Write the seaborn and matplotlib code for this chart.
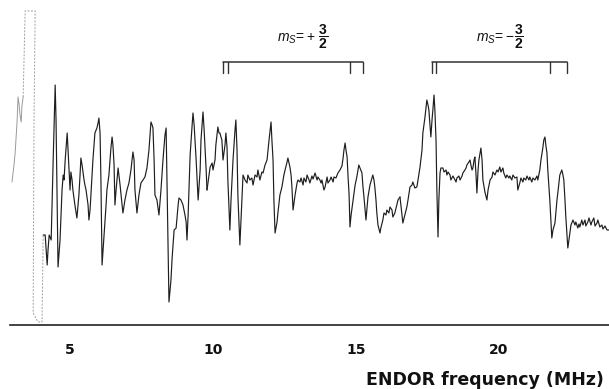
import numpy as np
import pandas as pd
import matplotlib
matplotlib.use("Agg")
import matplotlib.pyplot as plt
import seaborn as sns

# ENDOR spectrum: (frequency in MHz, signal in arbitrary units)
lead_in = [(2.97, 143), (3.04, 160), (3.08, 172), (3.15, 205), (3.18, 228), (3.22, 220),
           (3.25, 210), (3.29, 203), (3.32, 220), (3.36, 228)]

# off-scale part of the trace (drawn faint in the original)
saturated = [(3.36, 228), (3.43, 314), (3.78, 314), (3.74, 205), (3.71, 12), (3.88, 3),
             (4.02, 3), (4.06, 90)]

trace_low = [
    (4.06, 90), (4.13, 90), (4.20, 60), (4.23, 75), (4.27, 90), (4.34, 85), (4.41, 165),
    (4.48, 240), (4.51, 205), (4.58, 58), (4.65, 85), (4.72, 135), (4.76, 150), (4.79, 145),
    (4.83, 165), (4.90, 192), (4.93, 175), (5.00, 135), (5.03, 153), (5.07, 145), (5.10, 135),
    (5.17, 120), (5.24, 107), (5.31, 130), (5.35, 150), (5.38, 167), (5.42, 160), (5.49, 145),
    (5.52, 140), (5.56, 135), (5.63, 120), (5.66, 105), (5.70, 115), (5.73, 130), (5.80, 165),
    (5.87, 192), (5.94, 197), (5.98, 202), (6.01, 207), (6.05, 192), (6.08, 145), (6.12, 60),
    (6.19, 90), (6.26, 120), (6.29, 135), (6.36, 150), (6.43, 177), (6.47, 188), (6.50, 180),
    (6.54, 160), (6.57, 120), (6.61, 135), (6.68, 157), (6.75, 140), (6.82, 120), (6.85, 112),
    (6.92, 125), (6.99, 135), (7.06, 142), (7.13, 155), (7.20, 173), (7.24, 165), (7.27, 135),
    (7.34, 112), (7.41, 130), (7.48, 142), (7.55, 145), (7.62, 148), (7.69, 157), (7.76, 175),
    (7.83, 203), (7.87, 200), (7.90, 197), (7.94, 165), (7.97, 130), (8.04, 125), (8.11, 110),
    (8.18, 135), (8.25, 165), (8.32, 190), (8.36, 197), (8.39, 145), (8.46, 23), (8.53, 45),
    (8.57, 67), (8.64, 95), (8.71, 97), (8.78, 120), (8.81, 127), (8.88, 125), (8.95, 120),
    (9.02, 110), (9.06, 103), (9.09, 85), (9.13, 110), (9.20, 170), (9.27, 200), (9.30, 212),
    (9.34, 200), (9.41, 165), (9.48, 125), (9.55, 155), (9.58, 185), (9.65, 213), (9.69, 195),
    (9.76, 155), (9.79, 135),
]

trace_mid = [
    (9.79, 135), (9.86, 150), (9.90, 158), (9.97, 162), (10.00, 155), (10.07, 165), (10.10, 180),
    (10.17, 198), (10.21, 192), (10.24, 192), (10.31, 185), (10.35, 165), (10.42, 180),
    (10.45, 192), (10.49, 178), (10.52, 145), (10.59, 95), (10.63, 125), (10.70, 165),
    (10.77, 195), (10.80, 205), (10.84, 175), (10.87, 130), (10.94, 80), (11.01, 125),
    (11.05, 150), (11.12, 145), (11.19, 142), (11.22, 150), (11.29, 145), (11.36, 147),
    (11.40, 140), (11.47, 150), (11.54, 148), (11.57, 155), (11.64, 145), (11.71, 153),
    (11.75, 152), (11.82, 160), (11.89, 165), (11.96, 185), (12.03, 203), (12.06, 185),
    (12.10, 165), (12.13, 125), (12.17, 92), (12.24, 103), (12.27, 112), (12.34, 130),
    (12.41, 138), (12.48, 150), (12.52, 155), (12.59, 163), (12.62, 167), (12.66, 162),
    (12.69, 158), (12.73, 150), (12.76, 138), (12.80, 115), (12.87, 130), (12.94, 142),
    (12.97, 145), (13.04, 143), (13.08, 147), (13.15, 140), (13.18, 147), (13.25, 143),
    (13.29, 150), (13.36, 145), (13.39, 142), (13.46, 149), (13.50, 146), (13.57, 152),
    (13.64, 145), (13.67, 148), (13.74, 145), (13.78, 142), (13.81, 145), (13.88, 135),
    (13.92, 138), (13.99, 148), (14.02, 142), (14.09, 145), (14.13, 148), (14.20, 143),
    (14.23, 148), (14.30, 147), (14.37, 152), (14.44, 155), (14.51, 159), (14.55, 167),
    (14.58, 175), (14.62, 182), (14.65, 175), (14.69, 168), (14.72, 150), (14.76, 130),
    (14.79, 98), (14.83, 110), (14.90, 125), (14.97, 140), (15.03, 148), (15.10, 160),
    (15.14, 157), (15.21, 152), (15.24, 140), (15.28, 128), (15.35, 105), (15.38, 115),
    (15.42, 128), (15.49, 140), (15.56, 147), (15.59, 150), (15.63, 145), (15.66, 138),
    (15.70, 125), (15.73, 112), (15.77, 100), (15.84, 92), (15.87, 97), (15.94, 105),
    (15.98, 112), (16.05, 110), (16.08, 115), (16.15, 112), (16.19, 118), (16.26, 115),
    (16.29, 108), (16.36, 112), (16.43, 120), (16.47, 125), (16.54, 128),
]

trace_high = [
    (16.54, 128), (16.57, 120), (16.64, 102), (16.71, 110), (16.78, 118), (16.82, 125),
    (16.89, 138), (16.96, 140), (16.99, 143), (17.06, 137), (17.13, 138), (17.17, 145),
    (17.24, 158), (17.31, 175), (17.34, 192), (17.41, 207), (17.48, 225), (17.52, 220),
    (17.55, 215), (17.59, 200), (17.62, 188), (17.66, 205), (17.69, 215), (17.73, 230),
    (17.76, 215), (17.80, 185), (17.83, 135), (17.87, 88), (17.90, 125), (17.94, 152),
    (17.97, 157), (18.04, 157), (18.08, 153), (18.15, 155), (18.18, 150), (18.22, 153),
    (18.29, 150), (18.32, 145), (18.39, 149), (18.43, 147), (18.50, 143), (18.53, 147),
    (18.60, 149), (18.64, 145), (18.71, 149), (18.74, 152), (18.81, 155), (18.85, 157),
    (18.88, 160), (18.95, 163), (18.99, 165), (19.02, 160), (19.06, 155), (19.09, 157),
    (19.13, 165), (19.16, 168), (19.20, 150), (19.23, 132), (19.27, 155), (19.30, 165),
    (19.37, 177), (19.41, 165), (19.44, 145), (19.51, 133), (19.58, 125), (19.62, 135),
    (19.69, 145), (19.76, 148), (19.79, 153), (19.86, 150), (19.93, 155), (19.97, 153),
    (20.03, 158), (20.07, 153), (20.14, 157), (20.17, 152), (20.24, 147), (20.28, 150),
    (20.35, 147), (20.38, 149), (20.45, 145), (20.49, 150), (20.56, 147), (20.63, 148),
    (20.66, 135), (20.73, 142), (20.77, 147), (20.84, 143), (20.87, 147), (20.94, 145),
    (20.98, 149), (21.05, 145), (21.08, 148), (21.15, 143), (21.19, 147), (21.26, 145),
    (21.33, 149), (21.36, 145), (21.43, 155), (21.47, 165), (21.54, 178), (21.57, 185),
    (21.61, 188), (21.64, 180), (21.68, 172), (21.71, 155), (21.78, 125), (21.85, 87),
    (21.89, 95), (21.96, 102), (22.03, 125), (22.06, 132), (22.13, 150), (22.20, 155),
    (22.24, 150), (22.27, 145), (22.31, 125), (22.34, 108), (22.41, 77), (22.48, 92),
    (22.52, 100), (22.59, 105), (22.66, 100), (22.69, 103), (22.76, 97), (22.80, 101),
    (22.83, 98), (22.90, 105), (22.94, 100), (23.01, 105), (23.04, 99), (23.11, 103),
    (23.15, 107), (23.22, 100), (23.25, 103), (23.32, 107), (23.36, 99), (23.43, 102),
    (23.46, 105), (23.53, 98), (23.60, 100), (23.64, 96), (23.71, 99), (23.78, 95), (23.85, 95),
]

# line positions marked by the two brackets (MHz)
plus_lines = [10.35, 10.52, 14.79, 15.24]
minus_lines = [17.66, 17.80, 21.78, 22.38]
bracket_labels = [r"$m_S\!=\!+\,\dfrac{\mathbf{3}}{\mathbf{2}}$",
                  r"$m_S\!=\!-\!\dfrac{\mathbf{3}}{\mathbf{2}}$"]
label_pos = [13.15, 20.05]

xticks = [5, 10, 15, 20]


def to_df(points):
    return pd.DataFrame(points, columns=["freq", "signal"])


sns.set_style("white")
plt.rcParams["font.family"] = ["DejaVu Sans"]
plt.rcParams["mathtext.fontset"] = "custom"
plt.rcParams["mathtext.rm"] = "Liberation Sans"
plt.rcParams["mathtext.it"] = "Liberation Sans:italic"
plt.rcParams["mathtext.bf"] = "Liberation Sans:bold"

fig = plt.figure(figsize=(6.09, 3.89), dpi=100)
ax = fig.add_axes([10 / 609, 1 - 325 / 389, 599 / 609, 325 / 389])

sns.lineplot(data=to_df(lead_in), x="freq", y="signal", sort=False, estimator=None,
             color="#9a9a9a", lw=0.7, ax=ax)
sns.lineplot(data=to_df(saturated), x="freq", y="signal", sort=False, estimator=None,
             color="#a0a0a0", lw=0.7, ls=(0, (2, 1.5)), ax=ax)
for seg in [trace_low, trace_mid, trace_high]:
    sns.lineplot(data=to_df(seg), x="freq", y="signal", sort=False, estimator=None,
                 color="#1e1e1e", lw=0.85, ax=ax)

# brackets
top, foot = 263, 252
for lines, label, xl in zip([plus_lines, minus_lines], bracket_labels, label_pos):
    ax.plot([lines[0], lines[-1]], [top, top], color="#333333", lw=1.1)
    for xv in lines:
        ax.plot([xv, xv], [top, foot], color="#333333", lw=1.0)
    ax.text(xl, 288, label, ha="center", va="center", fontsize=10, color="#111111")

ax.set_xlim(2.90, 23.85)
ax.set_ylim(0, 325)
ax.set_xticks(xticks)
ax.set_xticklabels([str(t) for t in xticks], fontweight="bold", fontsize=10)
ax.tick_params(axis="x", direction="out", length=7, width=1, pad=6, colors="#111111")
ax.set_yticks([])
ax.set_xlabel("")
ax.set_ylabel("")
sns.despine(ax=ax, left=True, top=True, right=True)
ax.spines["bottom"].set_linewidth(1.2)
ax.spines["bottom"].set_color("#222222")
ax.patch.set_alpha(0)

fig.text(604 / 609, 1 - 380 / 389, "ENDOR frequency (MHz)", ha="right", va="center",
         fontsize=12.5, fontweight="bold", color="#111111")

fig.savefig("out.png", dpi=100)
